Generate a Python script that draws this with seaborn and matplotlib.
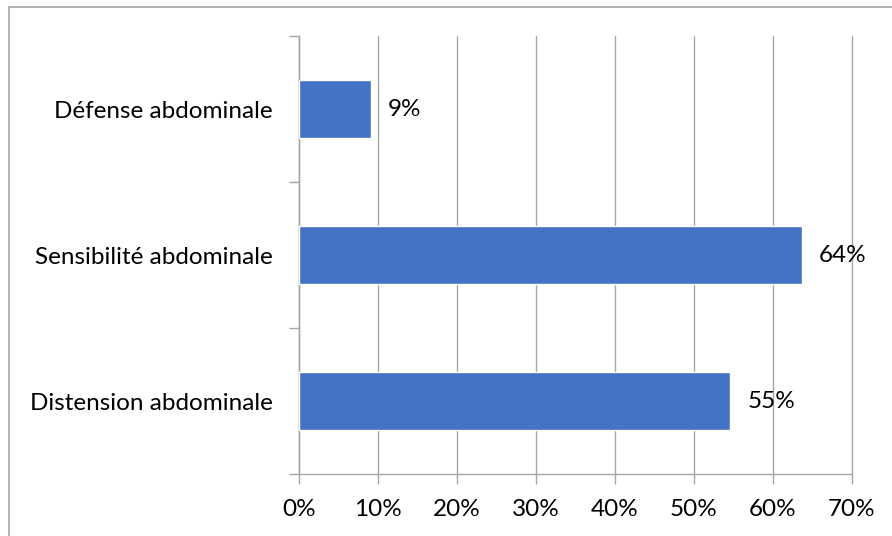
import matplotlib
matplotlib.use("Agg")
import matplotlib.pyplot as plt
from matplotlib.lines import Line2D
import seaborn as sns
import pandas as pd

# Clinical signs and their share of patients
categories = ["Défense abdominale", "Sensibilité abdominale", "Distension abdominale"]
values = [1 / 11, 7 / 11, 6 / 11]
x_ticks = [0.0, 0.1, 0.2, 0.3, 0.4, 0.5, 0.6, 0.7]
x_tick_labels = ["0%", "10%", "20%", "30%", "40%", "50%", "60%", "70%"]

df = pd.DataFrame({"signe": categories, "part": values})

sns.set_theme(style="white")
plt.rcParams["font.family"] = ["Lato", "DejaVu Sans"]

W, H = 892, 536
fig = plt.figure(figsize=(W / 100, H / 100), dpi=100)
ax = fig.add_axes([299 / W, 1 - 474 / H, (852 - 299) / W, (474 - 36) / H])

bar_color = "#4472C4"
grid_color = "#A6A6A6"
fs = 17.5

sns.barplot(data=df, x="part", y="signe", order=categories, color=bar_color,
            width=0.4, saturation=1, ax=ax, zorder=3)

ax.set_xlim(0, 0.7)
ax.set_ylim(2.5, -0.5)
ax.set_xticks(x_ticks)
ax.set_xticklabels(x_tick_labels)
ax.set_xlabel("")
ax.set_ylabel("")

# vertical gridlines
ax.grid(axis="x", color=grid_color, linewidth=1.0, zorder=0)
ax.grid(axis="y", visible=False)
for gl in ax.get_xgridlines():
    gl.set_clip_on(False)

for side in ["top", "right"]:
    ax.spines[side].set_visible(False)
for side in ["left", "bottom"]:
    ax.spines[side].set_color(grid_color)
    ax.spines[side].set_linewidth(1.0)

# category boundary ticks on the y axis
ax.set_yticks([0, 1, 2])
ax.set_yticks([-0.5, 0.5, 1.5, 2.5], minor=True)
ax.tick_params(axis="y", which="major", length=0, pad=19, labelsize=fs, labelcolor="black")
ax.tick_params(axis="y", which="minor", length=7, color=grid_color, width=1, left=True)
ax.tick_params(axis="x", which="major", length=7, color=grid_color, width=1, bottom=True,
               pad=11, labelsize=fs, labelcolor="black")

# value labels
for i, v in enumerate(values):
    ax.text(v + 0.022, i, f"{v:.0%}", va="center", ha="left", fontsize=fs, color="black")

# frame around chart area (top and left edges)
fig.add_artist(Line2D([8.5 / W, 8.5 / W], [0, 1 - 6.5 / H], transform=fig.transFigure,
                      color="#A6A6A6", linewidth=1.2))
fig.add_artist(Line2D([8.5 / W, 1], [1 - 6.5 / H, 1 - 6.5 / H], transform=fig.transFigure,
                      color="#A6A6A6", linewidth=1.2))

fig.savefig("out.png", dpi=100, facecolor="white")
